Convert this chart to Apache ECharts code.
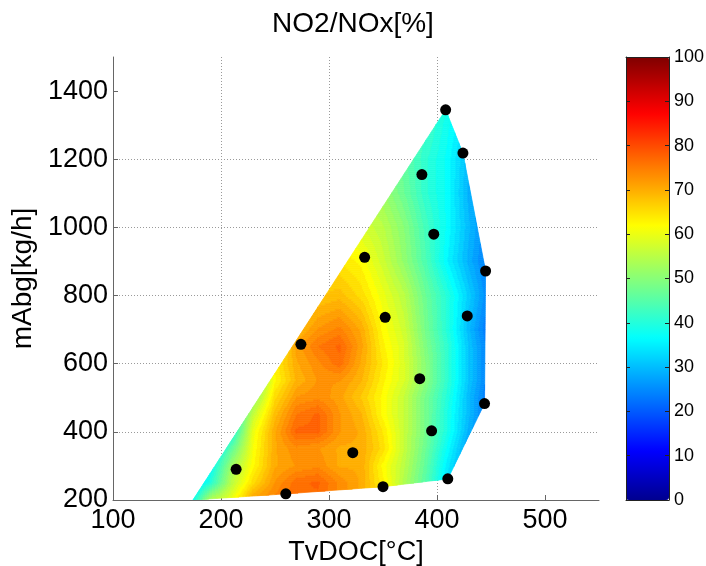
<!DOCTYPE html>
<html>
<head>
<meta charset="utf-8">
<script src="https://cdn.jsdelivr.net/npm/echarts@6/dist/echarts.min.js"></script>
<style>
html,body{margin:0;padding:0;background:#fff;}
#chart{width:706px;height:566px;}
</style>
</head>
<body>
<div id="chart"></div>
<script>
// ---- measured operating points (TvDOC [°C], mAbg [kg/h]) ----
const pointX = [408, 424, 386, 397, 445, 333, 352, 428, 274, 384, 444, 395, 322, 214, 410, 350, 260];
const pointY = [1345, 1218, 1155, 980, 872, 912, 736, 740, 657, 556, 483, 403, 339, 290, 262, 239, 218];

// ---- NO2/NOx [%] field on a grid ----
const gridX = [170, 190, 210, 230, 250, 270, 290, 310, 330, 350, 370, 390, 410, 430, 450];
const gridY = [200, 250, 300, 350, 400, 450, 500, 550, 600, 650, 700, 800, 900, 1000, 1100, 1200, 1300, 1400];
const fieldValues = [
  [34, 54, 60, 71, 74, 76, 76, 73, 70, 65, 58, 50, 42, 36, 30], // 200
  [30, 40, 55, 65, 72, 76, 77, 73, 70, 63, 54, 45, 34, 28, 24], // 250
  [28, 36, 52, 62, 70, 72, 73, 70, 70, 62, 55, 46, 35, 27, 22], // 300
  [26, 30, 46, 61, 70, 73, 72, 70, 70, 65, 56, 47, 37, 27, 22], // 350
  [25, 28, 38, 60, 70, 77, 77, 72, 70, 64, 56, 48, 39, 29, 22], // 400
  [25, 28, 36, 56, 68, 75, 77, 72, 69, 62, 56, 48, 39, 30, 22], // 450
  [25, 28, 36, 50, 65, 72, 73, 71, 67, 62, 56, 48, 40, 30, 22], // 500
  [25, 28, 36, 45, 62, 69, 72, 72, 69, 63, 58, 50, 41, 31, 23], // 550
  [25, 28, 36, 45, 63, 70, 73, 76, 70, 64, 58, 50, 41, 31, 23], // 600
  [25, 28, 36, 45, 60, 71, 75, 77, 71, 63, 58, 49, 41, 31, 23], // 650
  [25, 28, 36, 45, 58, 68, 72, 74, 70, 62, 57, 48, 40, 30, 22], // 700
  [25, 28, 36, 45, 55, 62, 67, 68, 65, 60, 55, 47, 40, 32, 24], // 800
  [25, 28, 36, 45, 55, 62, 64, 64, 62, 57, 51, 44, 36, 29, 23], // 900
  [25, 28, 36, 45, 55, 60, 62, 60, 58, 55, 50, 43, 37, 30, 24], // 1000
  [25, 28, 36, 45, 55, 58, 58, 56, 54, 52, 47, 41, 37, 29, 24], // 1100
  [25, 28, 36, 45, 55, 55, 54, 52, 50, 48, 46, 41, 37, 30, 25], // 1200
  [25, 28, 36, 45, 50, 50, 50, 48, 46, 45, 44, 43, 38, 33, 28], // 1300
  [25, 28, 36, 45, 50, 50, 50, 48, 46, 45, 44, 43, 40, 35, 30]  // 1400
];

// ---- outline of the interpolated region (data coordinates) ----
const boundaryX = [174, 260, 350, 410, 444, 445, 424, 408];
const boundaryY = [200, 218, 239, 262, 483, 872, 1218, 1345];

// ---- axes ----
const xTickValues = [100, 200, 300, 400, 500];
const yTickValues = [200, 400, 600, 800, 1000, 1200, 1400];
const colorbarTicks = [0, 10, 20, 30, 40, 50, 60, 70, 80, 90, 100];

const FONT = '"Liberation Sans", Arial, Helvetica, sans-serif';
const plain = v => String(v);

// MATLAB jet(64)
function jetColors(m) {
  const n = Math.ceil(m / 4);
  const u = [];
  for (let k = 1; k <= n; k++) u.push(k / n);
  for (let k = 1; k < n; k++) u.push(1);
  for (let k = n; k >= 1; k--) u.push(k / n);
  const gOff = Math.ceil(n / 2) - (m % 4 === 1 ? 1 : 0);
  const f = idx => (idx >= 1 && idx <= u.length) ? u[idx - 1] : 0;
  const cols = [];
  for (let k = 1; k <= m; k++) {
    const r = f(k - gOff - n), g = f(k - gOff), b = f(k - gOff + n);
    const h = c => Math.round(c * 255).toString(16).padStart(2, '0');
    cols.push('#' + h(r) + h(g) + h(b));
  }
  return cols;
}
const JET = jetColors(64);
function levelOf(v) {
  return Math.min(63, Math.max(0, Math.floor(v / 100 * 64)));
}

function clipPoly(subject, clip, orient) {
  let out = subject;
  for (let e = 0; e < clip.length; e++) {
    if (!out.length) break;
    const a = clip[e], b = clip[(e + 1) % clip.length];
    const side = p => ((b[0] - a[0]) * (p[1] - a[1]) - (b[1] - a[1]) * (p[0] - a[0])) * orient;
    const inp = out;
    out = [];
    for (let k = 0; k < inp.length; k++) {
      const cur = inp[k], prev = inp[(k + inp.length - 1) % inp.length];
      const sc = side(cur), sp = side(prev);
      if (sc >= 0) {
        if (sp < 0) {
          const t = sp / (sp - sc);
          out.push([prev[0] + (cur[0] - prev[0]) * t, prev[1] + (cur[1] - prev[1]) * t]);
        }
        out.push(cur);
      } else if (sp >= 0) {
        const t = sp / (sp - sc);
        out.push([prev[0] + (cur[0] - prev[0]) * t, prev[1] + (cur[1] - prev[1]) * t]);
      }
    }
  }
  return out;
}

const cells = [];
for (let j = 0; j < gridY.length - 1; j++) {
  for (let i = 0; i < gridX.length - 1; i++) {
    cells.push([gridX[i], gridY[j], i, j]);
  }
}

function renderCell(params, api) {
  const i = api.value(2), j = api.value(3);
  const v00 = fieldValues[j][i], v10 = fieldValues[j][i + 1];
  const v01 = fieldValues[j + 1][i], v11 = fieldValues[j + 1][i + 1];
  const pA = api.coord([gridX[i], gridY[j]]);
  const pB = api.coord([gridX[i + 1], gridY[j + 1]]);
  const left = pA[0], right = pB[0], bottom = pA[1], top = pB[1];
  const hull = boundaryX.map((x, k) => api.coord([x, boundaryY[k]]));
  let area = 0;
  for (let k = 0; k < hull.length; k++) {
    const p = hull[k], q = hull[(k + 1) % hull.length];
    area += p[0] * q[1] - q[0] * p[1];
  }
  const orient = area > 0 ? 1 : -1;
  const cellClip = clipPoly([[left, top], [right, top], [right, bottom], [left, bottom]], hull, orient);
  if (cellClip.length < 3) return null;
  const children = [];
  const stepY = 2;
  const W = right - left, H = bottom - top;
  for (let py = top; py < bottom - 1e-6; py += stepY) {
    const pyEnd = Math.min(py + stepY, bottom);
    const ty = (bottom - (py + pyEnd) / 2) / H;
    const vl = v00 + (v01 - v00) * ty;
    const vr = v10 + (v11 - v10) * ty;
    let runStart = left;
    let runLevel = null;
    const emit = (x0, x1, lev) => {
      const poly = clipPoly([[x0, py], [x1, py], [x1, pyEnd], [x0, pyEnd]], hull, orient);
      if (poly.length >= 3) {
        children.push({
          type: 'polygon',
          shape: { points: poly },
          style: { fill: JET[lev], stroke: JET[lev], lineWidth: 0.7 },
          silent: true
        });
      }
    };
    for (let px = left; px < right - 1e-6; px += 1) {
      const pxEnd = Math.min(px + 1, right);
      const tx = ((px + pxEnd) / 2 - left) / W;
      const lev = levelOf(vl + (vr - vl) * tx);
      if (runLevel === null) { runLevel = lev; runStart = px; }
      else if (lev !== runLevel) {
        emit(runStart, px, runLevel);
        runLevel = lev; runStart = px;
      }
    }
    if (runLevel !== null) emit(runStart, right, runLevel);
  }
  return { type: 'group', children: children };
}

const chart = echarts.init(document.getElementById('chart'), null, { renderer: 'canvas' });

const axisGray = '#666';
const option = {
  animation: false,
  backgroundColor: '#fff',
  textStyle: { fontFamily: FONT },
  title: {
    text: 'NO2/NOx[%]',
    left: 'center',
    top: 10,
    padding: 0,
    textStyle: { fontSize: 28, fontWeight: 'normal', color: '#000', fontFamily: FONT }
  },
  grid: [
    { left: 113, top: 57, width: 486, height: 443, containLabel: false, outerBoundsMode: 'none' },
    { left: 626, top: 57, width: 43, height: 443, containLabel: false, outerBoundsMode: 'none' }
  ],
  xAxis: [
    {
      gridIndex: 0, type: 'value', min: 100, max: 550, interval: 100,
      name: 'TvDOC[°C]', nameLocation: 'middle', nameGap: 33,
      nameTextStyle: { fontSize: 27, color: '#000', fontFamily: FONT },
      axisLine: { show: true, onZero: false, lineStyle: { color: axisGray, width: 1 } },
      axisTick: { show: true, inside: true, length: 5, customValues: xTickValues, lineStyle: { color: axisGray } },
      axisLabel: { customValues: xTickValues, formatter: plain, fontSize: 27, color: '#000', margin: 7, fontFamily: FONT },
      splitLine: { show: true, showMinLine: false, showMaxLine: false, lineStyle: { color: '#9a9a9a', type: [1, 2], width: 1 } }
    },
    {
      gridIndex: 1, type: 'value', min: 0, max: 1, position: 'bottom', z: 10,
      axisLine: { show: true, onZero: false, lineStyle: { color: '#222' } },
      axisTick: { show: false }, axisLabel: { show: false }, splitLine: { show: false }
    },
    {
      gridIndex: 1, type: 'value', min: 0, max: 1, position: 'top', z: 10,
      axisLine: { show: true, onZero: false, lineStyle: { color: '#222' } },
      axisTick: { show: false }, axisLabel: { show: false }, splitLine: { show: false }
    }
  ],
  yAxis: [
    {
      gridIndex: 0, type: 'value', min: 200, max: 1500, interval: 200,
      name: 'mAbg[kg/h]', nameLocation: 'middle', nameGap: 73, nameRotate: 90,
      nameTextStyle: { fontSize: 28, color: '#000', fontFamily: FONT },
      axisLine: { show: true, onZero: false, lineStyle: { color: axisGray, width: 1 } },
      axisTick: { show: true, inside: true, length: 5, customValues: yTickValues, lineStyle: { color: axisGray } },
      axisLabel: { customValues: yTickValues, formatter: plain, fontSize: 27, color: '#000', margin: 5, fontFamily: FONT },
      splitLine: { show: true, showMinLine: false, showMaxLine: false, lineStyle: { color: '#9a9a9a', type: [1, 2], width: 1 } }
    },
    {
      gridIndex: 1, type: 'value', min: 0, max: 100, interval: 10, position: 'left', z: 10,
      axisLine: { show: true, onZero: false, lineStyle: { color: '#222' } },
      axisTick: { show: true, inside: true, length: 4, lineStyle: { color: '#222' } },
      axisLabel: { show: false }, splitLine: { show: false }
    },
    {
      gridIndex: 1, type: 'value', min: 0, max: 100, interval: 10, position: 'right', z: 10,
      axisLine: { show: true, onZero: false, lineStyle: { color: '#222' } },
      axisTick: { show: true, inside: true, length: 4, customValues: colorbarTicks, lineStyle: { color: '#222' } },
      axisLabel: { show: true, customValues: colorbarTicks, formatter: plain, fontSize: 18, color: '#000', margin: 5, fontFamily: FONT },
      splitLine: { show: false }
    }
  ],
  visualMap: {
    type: 'continuous',
    min: 0, max: 100,
    seriesIndex: 0,
    dimension: 3,
    calculable: false,
    hoverLink: false,
    realtime: false,
    orient: 'vertical',
    left: 626, top: 57,
    itemWidth: 43, itemHeight: 443,
    padding: 0,
    text: null,
    inRange: { color: JET },
    z: 4
  },
  series: [
    {
      type: 'custom',
      xAxisIndex: 0, yAxisIndex: 0,
      coordinateSystem: 'cartesian2d',
      renderItem: renderCell,
      data: cells,
      encode: { x: 0, y: 1 },
      clip: true,
      silent: true,
      z: 1
    },
    {
      type: 'scatter',
      xAxisIndex: 0, yAxisIndex: 0,
      data: pointX.map((x, k) => [x, pointY[k]]),
      symbol: 'circle',
      symbolSize: 11,
      itemStyle: { color: '#000', opacity: 1 },
      clip: true,
      silent: true,
      z: 3
    }
  ]
};
chart.setOption(option);
</script>
</body>
</html>
